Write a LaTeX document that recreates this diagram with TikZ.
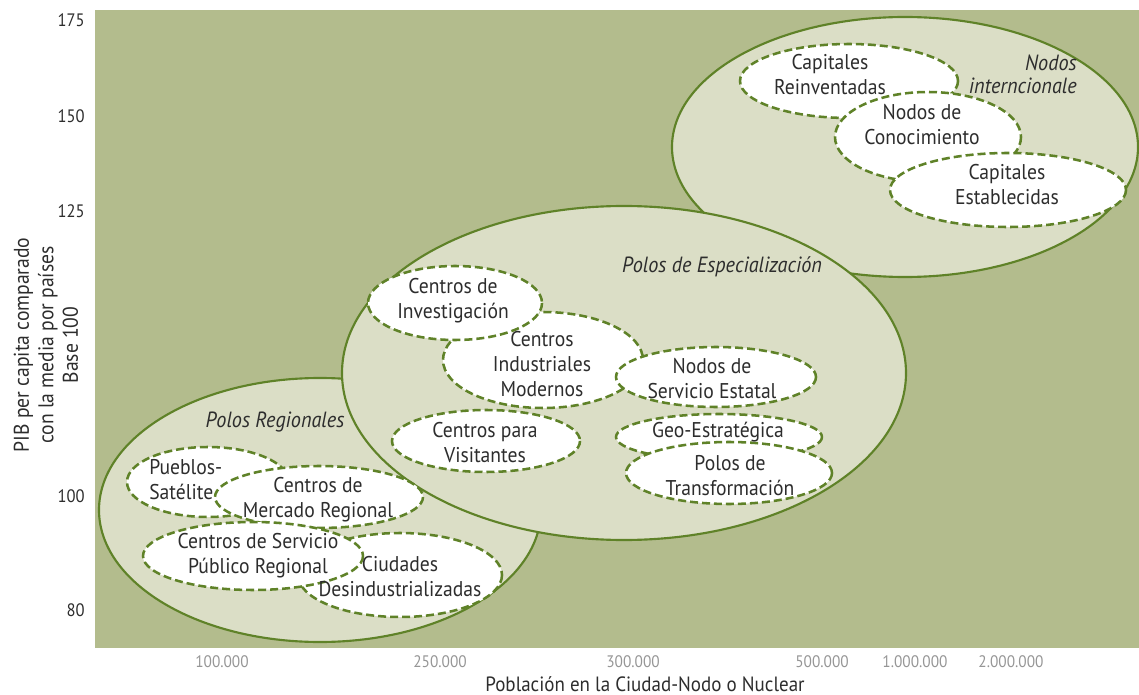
\documentclass[tikz,border=0pt]{standalone}
\usepackage{fontspec}
\setmainfont[FakeStretch=0.92]{PT Sans}
\definecolor{olivebg}{RGB}{179,188,141}
\definecolor{palefill}{RGB}{219,222,198}
\definecolor{leafline}{RGB}{95,130,40}
\definecolor{inkgray}{RGB}{45,45,45}
\definecolor{tickgray}{RGB}{150,150,150}

\begin{document}
\begin{tikzpicture}[x=0.75pt,y=0.75pt,yscale=-1,xscale=1,
  bigoval/.style={draw=leafline,fill=palefill,line width=1.6pt},
  smalloval/.style={draw=leafline,fill=white,line width=1.9pt,dash pattern=on 6pt off 3pt},
  lbl/.style={inner sep=0.75pt,align=center,text=inkgray,font=\fontsize{16}{18.75}\selectfont},
  tag/.style={inner sep=0.75pt,text=inkgray,font=\fontsize{16.5}{17}\selectfont\itshape},
  ytick/.style={anchor=east,inner sep=0.75pt,text=inkgray,font=\fontsize{13.5}{15}\selectfont},
  xtick/.style={inner sep=0.75pt,text=tickgray,font=\fontsize{12.5}{14}\selectfont}]
\useasboundingbox (0,0) rectangle (1139,695);

%Shape: Rectangle [plot area]
\fill[olivebg] (95,10) rectangle (1139,648);

%Shape: Ellipse [Nodos internacionales]
\draw[bigoval] (905,147) ellipse (233 and 130);
%Shape: Ellipse [Polos Regionales]
\draw[bigoval] (320,510) ellipse (221 and 132);
%Shape: Ellipse [Polos de Especializacion]
\draw[bigoval] (624,373) ellipse (282 and 167);

%Shape: Ellipse
\draw[smalloval] (849,81) ellipse (109 and 37);
%Shape: Ellipse
\draw[smalloval] (928,137) ellipse (93 and 45);
%Shape: Ellipse
\draw[smalloval] (1008,190) ellipse (118 and 37);

%Shape: Ellipse
\draw[smalloval] (543,360) ellipse (100 and 48);
%Shape: Ellipse
\draw[smalloval] (455,303) ellipse (87 and 37);
%Shape: Ellipse
\draw[smalloval] (716,377) ellipse (100 and 30);
%Shape: Ellipse
\draw[smalloval] (486,441) ellipse (94 and 31);
%Shape: Ellipse
\draw[smalloval] (719,437) ellipse (103 and 23);
%Shape: Ellipse
\draw[smalloval] (729,473) ellipse (103 and 31);

%Shape: Ellipse
\draw[smalloval] (208,482) ellipse (81 and 35);
%Shape: Ellipse
\draw[smalloval] (400,575) ellipse (102 and 42);
%Shape: Ellipse
\draw[smalloval] (319,497) ellipse (104 and 31);
%Shape: Ellipse
\draw[smalloval] (253,556) ellipse (110 and 34);

% Text Node
\node[tag,anchor=east,align=right] (tagNodos) at (1078,74) {Nodos\\interncionale};
% Text Node
\node[lbl] (capReinv) at (830,75) {Capitales\\Reinventadas};
% Text Node
\node[lbl] (nodosCon) at (922,125) {Nodos de\\Conocimiento};
% Text Node
\node[lbl] (capEstab) at (1007,185) {Capitales\\Establecidas};

% Text Node
\node[tag] (tagEspec) at (722,267) {Polos de Especialización};
% Text Node
\node[lbl] (cenInvest) at (453,301) {Centros de\\Investigación};
% Text Node
\node[lbl] (cenIndus) at (542,364) {Centros\\Industriales\\Modernos};
% Text Node
\node[lbl] (nodosServ) at (712,379) {Nodos de\\Servicio Estatal};
% Text Node
\node[lbl] (cenVisit) at (485,443) {Centros para\\Visitantes};
% Text Node
\node[lbl] (geoEstr) at (718,432) {Geo-Estratégica};
% Text Node
\node[lbl] (polTransf) at (730,476) {Polos de\\Transformación};

% Text Node
\node[tag] (tagRegion) at (275,422) {Polos Regionales};
% Text Node
\node[lbl,anchor=west,align=left] (pueblos) at (148,480) {Pueblos-\\Satélite};
% Text Node
\node[lbl] (cenMerc) at (318,500) {Centros de\\Mercado Regional};
% Text Node
\node[lbl] (cenServ) at (258,556) {Centros de Servicio\\Público Regional};
% Text Node
\node[lbl] (ciuDesind) at (400,577) {Ciudades\\Desindustrializadas};

% Text Node
\node[ytick] (y175) at (86,20) {175};
\node[ytick] (y150) at (86,116) {150};
\node[ytick] (y125) at (86,211) {125};
\node[ytick] (y100) at (86,496) {100};
\node[ytick] (y80) at (86,610) {80};

% Text Node
\node[xtick] (x100k) at (222,662) {100.000};
\node[xtick] (x250k) at (440,662) {250.000};
\node[xtick] (x300k) at (633,662) {300.000};
\node[xtick] (x500k) at (822,662) {500.000};
\node[xtick] (x1m) at (915,662) {1.000.000};
\node[xtick] (x2m) at (1011,662) {2.000.000};

% Text Node
\node[inner sep=0.75pt,text=inkgray,font=\fontsize{15.5}{17}\selectfont] (xtitle) at (645,684) {Población en la Ciudad-Nodo o Nuclear};
% Text Node
\node[inner sep=0.75pt,text=inkgray,align=center,rotate=90,font=\fontsize{16}{18.4}\selectfont] (ytitle) at (46,345) {PIB per capita comparado\\con la media por países\\Base 100};

\end{tikzpicture}
\end{document}
